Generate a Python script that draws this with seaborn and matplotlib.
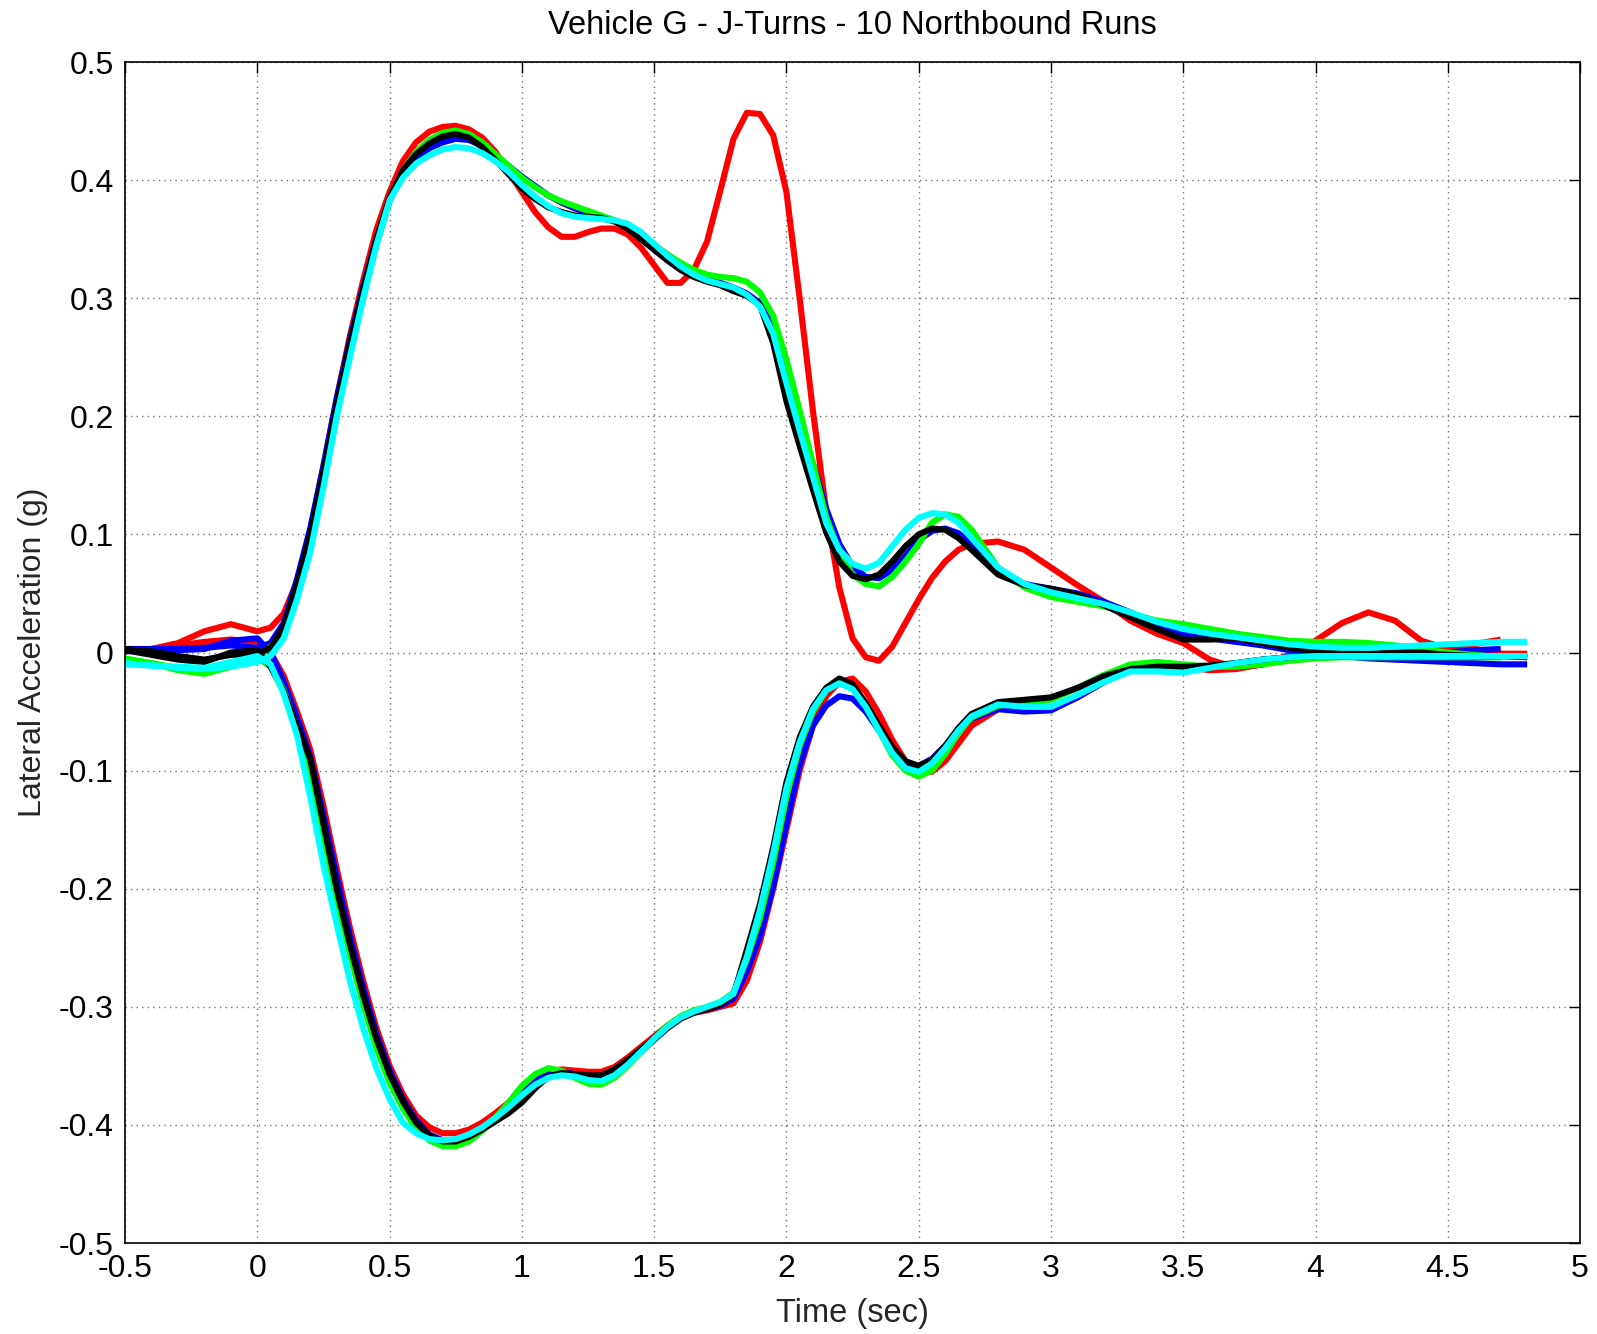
import numpy as np
import pandas as pd
import seaborn as sns
import matplotlib.pyplot as plt
from matplotlib.ticker import FormatStrFormatter

# sample times (sec): coarse before 0, fine through the transient, coarse tail
time_pre = [-0.5, -0.4, -0.3, -0.2, -0.1, 0.0]
time_mid = np.round(np.arange(0.05, 2.7001, 0.05), 2)
time_tail = np.round(np.arange(2.8, 4.8001, 0.1), 2)
time = np.concatenate([time_pre, time_mid, time_tail])

nan = np.nan

# lateral acceleration (g), runs turning one way
pos_red = [0.002, 0.003, 0.008, 0.018, 0.024, 0.018,
           0.021, 0.033, 0.060, 0.103, 0.158, 0.215, 0.268, 0.315, 0.358, 0.390,
           0.416, 0.432, 0.441, 0.445, 0.446, 0.443, 0.436, 0.424, 0.407, 0.390,
           0.373, 0.360, 0.352, 0.352, 0.356, 0.359, 0.359, 0.354, 0.343, 0.328,
           0.313, 0.313, 0.324, 0.348, 0.391, 0.435, 0.457, 0.456, 0.438, 0.390,
           0.300, 0.205, 0.120, 0.055, 0.012, -0.004, -0.007, 0.005, 0.025, 0.045,
           0.063, 0.077, 0.087, 0.092,
           0.094, 0.087, 0.072, 0.057, 0.043, 0.027, 0.016, 0.008, -0.006, -0.013,
           -0.010, -0.002, 0.010, 0.025, 0.034, 0.027, 0.010, 0.003, 0.000, -0.001, -0.001]

pos_blue = [0.003, 0.003, 0.003, 0.004, 0.006, 0.004,
            0.008, 0.025, 0.062, 0.105, 0.158, 0.215, 0.265, 0.310, 0.350, 0.383,
            0.405, 0.418, 0.427, 0.432, 0.435, 0.434, 0.429, 0.421, 0.412, 0.403,
            0.395, 0.387, 0.381, 0.376, 0.372, 0.369, 0.366, 0.361, 0.353, 0.345,
            0.337, 0.329, 0.322, 0.317, 0.313, 0.309, 0.304, 0.296, 0.275, 0.235,
            0.195, 0.160, 0.122, 0.092, 0.073, 0.064, 0.063, 0.070, 0.082, 0.095,
            0.103, 0.105, 0.101, 0.092,
            0.070, 0.058, 0.054, 0.050, 0.043, 0.034, 0.024, 0.016, 0.012, 0.009,
            0.006, 0.002, 0.000, -0.003, -0.005, -0.006, -0.007, -0.008, -0.009, -0.010, -0.010]

pos_green = [-0.006, -0.009, -0.013, -0.016, -0.012, -0.005,
             0.005, 0.018, 0.050, 0.090, 0.143, 0.200, 0.252, 0.300, 0.345, 0.382,
             0.408, 0.424, 0.434, 0.440, 0.442, 0.439, 0.432, 0.422, 0.412, 0.402,
             0.394, 0.387, 0.382, 0.378, 0.374, 0.370, 0.366, 0.360, 0.353, 0.345,
             0.337, 0.330, 0.324, 0.320, 0.318, 0.317, 0.314, 0.305, 0.285, 0.248,
             0.205, 0.160, 0.115, 0.085, 0.066, 0.058, 0.056, 0.064, 0.077, 0.092,
             0.110, 0.117, 0.115, 0.104,
             0.072, 0.055, 0.047, 0.043, 0.039, 0.033, 0.027, 0.024, 0.020, 0.016,
             0.013, 0.010, 0.009, 0.009, 0.008, 0.006, 0.003, 0.000, -0.002, -0.004, nan]

pos_black = [0.003, 0.001, -0.003, -0.006, -0.002, -0.001,
             0.004, 0.022, 0.058, 0.100, 0.153, 0.210, 0.262, 0.308, 0.350, 0.385,
             0.408, 0.422, 0.431, 0.437, 0.439, 0.436, 0.428, 0.417, 0.405, 0.393,
             0.384, 0.377, 0.373, 0.370, 0.369, 0.368, 0.365, 0.359, 0.350, 0.341,
             0.332, 0.324, 0.318, 0.314, 0.311, 0.306, 0.302, 0.294, 0.262, 0.213,
             0.175, 0.138, 0.102, 0.077, 0.065, 0.062, 0.066, 0.077, 0.090, 0.100,
             0.105, 0.104, 0.097, 0.087,
             0.066, 0.057, 0.054, 0.049, 0.040, 0.030, 0.020, 0.011, 0.011, 0.012,
             0.008, 0.004, 0.001, 0.000, -0.001, 0.000, 0.000, -0.002, -0.003, -0.003, -0.004]

pos_cyan = [-0.009, -0.011, -0.013, -0.014, -0.012, -0.008,
            -0.003, 0.012, 0.045, 0.085, 0.140, 0.200, 0.250, 0.300, 0.345, 0.383,
            0.402, 0.414, 0.421, 0.426, 0.428, 0.427, 0.423, 0.416, 0.407, 0.396,
            0.386, 0.378, 0.372, 0.369, 0.368, 0.367, 0.366, 0.363, 0.356, 0.346,
            0.336, 0.327, 0.320, 0.315, 0.312, 0.309, 0.303, 0.293, 0.270, 0.228,
            0.188, 0.149, 0.110, 0.087, 0.075, 0.071, 0.076, 0.090, 0.104, 0.114,
            0.118, 0.117, 0.110, 0.097,
            0.072, 0.058, 0.051, 0.046, 0.041, 0.034, 0.026, 0.020, 0.016, 0.013,
            0.010, 0.007, 0.005, 0.004, 0.004, 0.005, 0.006, 0.007, 0.008, 0.009, 0.009]

# runs turning the other way
neg_red = [0.001, 0.003, 0.006, 0.009, 0.011, 0.009,
           0.000, -0.020, -0.050, -0.082, -0.130, -0.183, -0.233, -0.278, -0.318, -0.350,
           -0.374, -0.392, -0.402, -0.407, -0.407, -0.404, -0.398, -0.390, -0.381, -0.371,
           -0.362, -0.355, -0.353, -0.354, -0.355, -0.355, -0.351, -0.343, -0.334, -0.325,
           -0.316, -0.309, -0.305, -0.303, -0.300, -0.297, -0.278, -0.245, -0.200, -0.150,
           -0.100, -0.062, -0.037, -0.025, -0.022, -0.033, -0.052, -0.074, -0.092, -0.101,
           -0.101, -0.092, -0.077, -0.062,
           -0.048, -0.046, -0.048, -0.038, -0.025, -0.013, -0.010, -0.012, -0.015, -0.014,
           -0.010, -0.004, 0.000, -0.002, -0.004, -0.003, -0.002, 0.003, 0.007, 0.011, nan]

neg_blue = [0.001, 0.002, 0.002, 0.003, 0.010, 0.012,
            0.000, -0.025, -0.055, -0.088, -0.138, -0.190, -0.240, -0.284, -0.323, -0.354,
            -0.378, -0.396, -0.408, -0.413, -0.414, -0.411, -0.404, -0.395, -0.384, -0.372,
            -0.362, -0.356, -0.355, -0.357, -0.359, -0.360, -0.356, -0.348, -0.338, -0.328,
            -0.318, -0.310, -0.305, -0.302, -0.299, -0.293, -0.270, -0.240, -0.198, -0.145,
            -0.095, -0.062, -0.045, -0.037, -0.039, -0.050, -0.066, -0.082, -0.093, -0.096,
            -0.090, -0.079, -0.066, -0.056,
            -0.048, -0.050, -0.049, -0.038, -0.025, -0.015, -0.011, -0.012, -0.012, -0.009,
            -0.006, -0.004, -0.003, -0.003, -0.003, -0.002, -0.001, 0.000, 0.002, 0.003, nan]

neg_green = [-0.005, -0.009, -0.015, -0.018, -0.012, -0.004,
             -0.012, -0.032, -0.063, -0.100, -0.155, -0.208, -0.255, -0.298, -0.335, -0.364,
             -0.386, -0.403, -0.413, -0.418, -0.418, -0.414, -0.405, -0.394, -0.381, -0.367,
             -0.357, -0.352, -0.354, -0.360, -0.365, -0.366, -0.360, -0.350, -0.338, -0.327,
             -0.316, -0.308, -0.303, -0.300, -0.296, -0.288, -0.260, -0.225, -0.178, -0.122,
             -0.079, -0.050, -0.032, -0.024, -0.028, -0.045, -0.066, -0.087, -0.100, -0.105,
             -0.100, -0.086, -0.068, -0.055,
             -0.045, -0.043, -0.040, -0.030, -0.019, -0.010, -0.008, -0.010, -0.012, -0.012,
             -0.010, -0.007, -0.005, -0.004, -0.004, -0.004, -0.004, -0.004, -0.004, -0.004, nan]

neg_black = [0.002, -0.002, -0.006, -0.008, 0.000, 0.002,
             -0.012, -0.033, -0.062, -0.090, -0.145, -0.200, -0.247, -0.290, -0.327, -0.357,
             -0.380, -0.398, -0.409, -0.414, -0.414, -0.410, -0.404, -0.397, -0.390, -0.381,
             -0.369, -0.359, -0.356, -0.357, -0.358, -0.358, -0.353, -0.345, -0.336, -0.327,
             -0.318, -0.310, -0.305, -0.302, -0.298, -0.290, -0.252, -0.213, -0.165, -0.110,
             -0.072, -0.046, -0.030, -0.022, -0.027, -0.043, -0.062, -0.080, -0.092, -0.096,
             -0.091, -0.079, -0.064, -0.052,
             -0.042, -0.040, -0.038, -0.030, -0.020, -0.014, -0.012, -0.012, -0.011, -0.009,
             -0.006, -0.004, -0.003, -0.003, -0.002, -0.002, -0.002, -0.003, -0.003, -0.003, -0.003]

neg_cyan = [-0.010, -0.011, -0.012, -0.013, -0.008, -0.003,
            -0.010, -0.035, -0.070, -0.122, -0.180, -0.230, -0.278, -0.318, -0.352, -0.378,
            -0.398, -0.407, -0.412, -0.413, -0.412, -0.408, -0.402, -0.394, -0.385, -0.375,
            -0.366, -0.360, -0.358, -0.359, -0.362, -0.363, -0.358, -0.349, -0.338, -0.327,
            -0.317, -0.309, -0.304, -0.300, -0.296, -0.289, -0.258, -0.218, -0.170, -0.115,
            -0.076, -0.048, -0.032, -0.026, -0.031, -0.046, -0.066, -0.085, -0.098, -0.101,
            -0.094, -0.081, -0.066, -0.054,
            -0.044, -0.046, -0.046, -0.036, -0.025, -0.016, -0.016, -0.017, -0.013, -0.009,
            -0.006, -0.004, -0.003, -0.003, -0.003, -0.003, -0.003, -0.003, -0.003, -0.003, -0.003]

x_ticks = [-0.5, 0, 0.5, 1, 1.5, 2, 2.5, 3, 3.5, 4, 4.5, 5]
y_ticks = [-0.5, -0.4, -0.3, -0.2, -0.1, 0, 0.1, 0.2, 0.3, 0.4, 0.5]

runs = {
    "red+": pos_red, "red-": neg_red,
    "blue+": pos_blue, "blue-": neg_blue,
    "green+": pos_green, "green-": neg_green,
    "black+": pos_black, "black-": neg_black,
    "cyan+": pos_cyan, "cyan-": neg_cyan,
}
run_colors = {
    "red+": "#ff0000", "red-": "#ff0000",
    "blue+": "#0000ff", "blue-": "#0000ff",
    "green+": "#00ff00", "green-": "#00ff00",
    "black+": "#000000", "black-": "#000000",
    "cyan+": "#00ffff", "cyan-": "#00ffff",
}

frames = []
for name, vals in runs.items():
    frames.append(pd.DataFrame({"time": time, "accel": vals, "run": name}))
df = pd.concat(frames, ignore_index=True).dropna()

sns.set_style("white")
plt.rcParams["font.family"] = ["Liberation Sans", "DejaVu Sans"]
plt.rcParams["axes.unicode_minus"] = False

fig = plt.figure(figsize=(15.97, 13.34), dpi=100)
ax = fig.add_axes([0.0783, 0.0682, 0.9111, 0.8853])

sns.lineplot(data=df, x="time", y="accel", hue="run", palette=run_colors,
             estimator=None, sort=False, linewidth=4.4, legend=False, ax=ax,
             solid_joinstyle="round", solid_capstyle="butt")

ax.set_xlim(-0.5, 5)
ax.set_ylim(-0.5, 0.5)
ax.set_xticks(x_ticks)
ax.set_yticks(y_ticks)
ax.xaxis.set_major_formatter(FormatStrFormatter("%g"))
ax.yaxis.set_major_formatter(FormatStrFormatter("%g"))
ax.grid(True, color="0.45", linestyle=(0, (1, 3)), linewidth=1)
ax.tick_params(direction="in", top=True, right=True, length=8, width=1,
               labelsize=23, colors="black", pad=8)
for s in ax.spines.values():
    s.set_color("black")
    s.set_linewidth(1.2)

# title placed on the figure so it sits just above the frame
fig.text(0.534, 0.981, "Vehicle G - J-Turns - 10 Northbound Runs",
         fontsize=23.5, ha="center", va="center", color="black")
ax.set_xlabel("Time (sec)", fontsize=23.5, labelpad=10)
ax.set_ylabel("Lateral Acceleration (g)", fontsize=23, labelpad=8)

fig.savefig("out.png", dpi=100)
